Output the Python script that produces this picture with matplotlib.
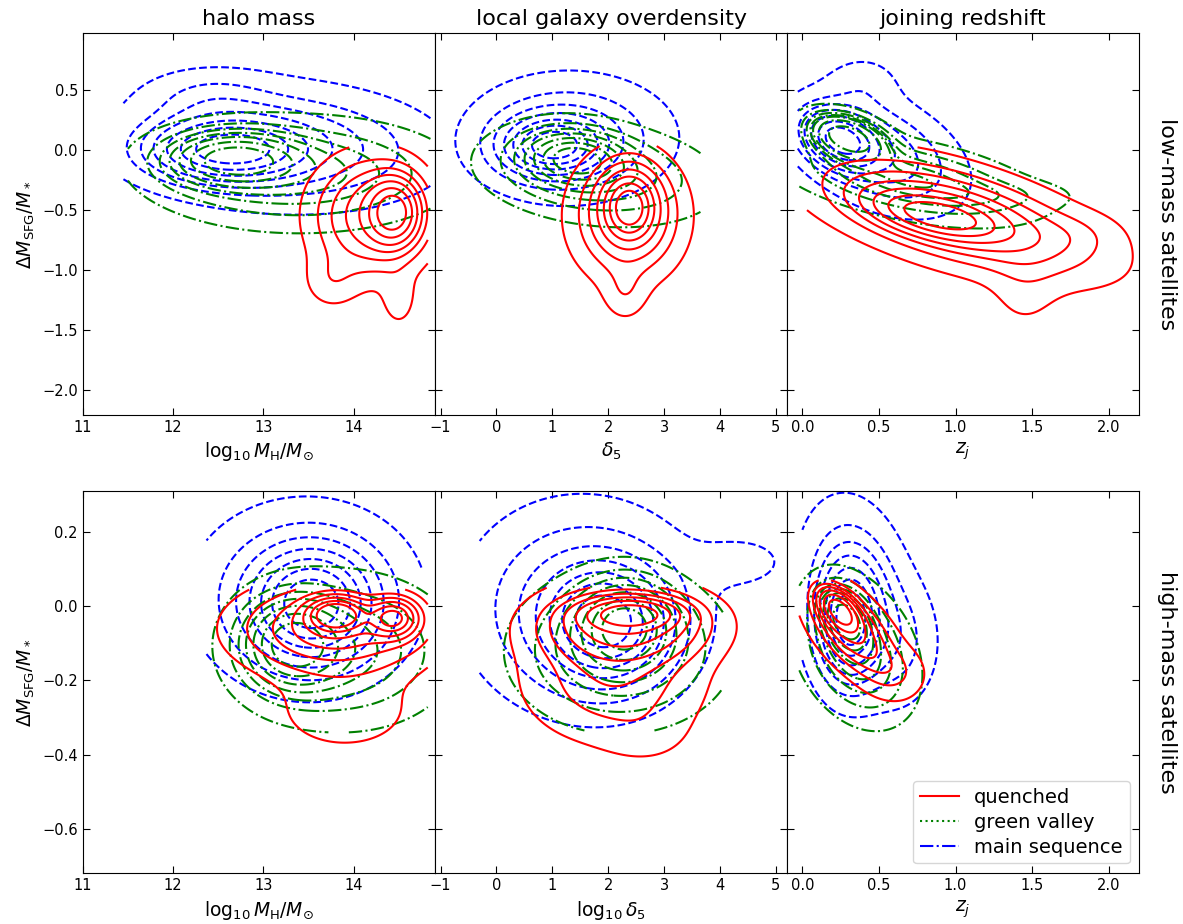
import numpy as np
import matplotlib.pyplot as plt
from matplotlib.lines import Line2D

# Gaussian blobs: (x, y, sx, sy, rho, weight)
# plus the data range each sample covers: (xmin, xmax, ymin, ymax)

# low-mass satellites, halo mass
hm_lo_ms = [(12.6, 0.0, 0.5, 0.15, 0.0, 1.0), (13.2, 0.03, 1.0, 0.3, -0.1, 0.4),
            (12.4, 0.45, 0.45, 0.15, 0.0, 0.12)]
hm_lo_gv = [(12.65, -0.08, 0.45, 0.14, 0.0, 1.0), (13.4, -0.2, 0.9, 0.25, 0.0, 0.5)]
hm_lo_q = [(14.45, -0.52, 0.18, 0.17, 0.0, 1.0), (14.2, -0.55, 0.4, 0.3, 0.0, 0.55),
           (13.75, -1.1, 0.2, 0.15, 0.0, 0.12), (14.5, -1.25, 0.12, 0.15, 0.0, 0.12)]
hm_lo_box = [(11.45, 14.85, -1.0, 1.0), (11.5, 14.85, -1.0, 0.6), (13.0, 14.82, -1.7, 0.02)]

# low-mass satellites, overdensity
od_lo_ms = [(1.0, 0.03, 0.55, 0.15, 0.0, 1.0), (1.3, 0.1, 0.95, 0.27, 0.0, 0.4)]
od_lo_gv = [(1.4, -0.07, 0.55, 0.14, -0.1, 1.0), (1.8, -0.2, 1.1, 0.22, -0.2, 0.5)]
od_lo_q = [(2.38, -0.47, 0.3, 0.18, 0.0, 1.0), (2.35, -0.55, 0.6, 0.32, 0.0, 0.5),
           (2.3, -1.2, 0.25, 0.15, 0.0, 0.12)]
od_lo_box = [(-0.9, 3.6, -0.6, 0.9), (-0.9, 3.65, -0.9, 0.4), (1.0, 3.55, -1.6, 0.03)]

# low-mass satellites, joining redshift
zj_lo_ms = [(0.25, 0.08, 0.14, 0.14, -0.3, 1.0), (0.5, -0.02, 0.3, 0.28, -0.4, 0.3),
            (0.4, 0.55, 0.15, 0.15, 0.0, 0.07)]
zj_lo_gv = [(0.3, 0.1, 0.14, 0.11, -0.4, 1.0), (0.7, -0.25, 0.45, 0.2, -0.5, 0.3),
            (1.35, -0.38, 0.3, 0.08, 0.0, 0.05)]
zj_lo_q = [(0.88, -0.55, 0.25, 0.12, -0.5, 1.0), (1.0, -0.55, 0.55, 0.3, -0.6, 0.6),
           (1.45, -1.2, 0.15, 0.22, 0.0, 0.08), (1.8, -0.7, 0.2, 0.12, 0.0, 0.06)]
zj_lo_box = [(-0.03, 1.3, -0.7, 1.0), (-0.02, 1.9, -0.9, 0.4), (0.03, 2.3, -1.7, 0.02)]

# high-mass satellites, halo mass
hm_hi_ms = [(13.55, 0.0, 0.45, 0.1, 0.0, 1.0), (13.45, 0.03, 0.7, 0.14, 0.0, 0.5)]
hm_hi_gv = [(13.3, -0.1, 0.35, 0.08, 0.0, 1.0), (13.9, -0.12, 0.7, 0.12, 0.0, 0.6)]
hm_hi_q = [(13.8, -0.02, 0.2, 0.03, 0.0, 1.0), (14.45, -0.03, 0.18, 0.035, 0.0, 0.9),
           (13.8, -0.06, 0.6, 0.07, 0.0, 0.6), (13.9, -0.28, 0.55, 0.08, 0.0, 0.1)]
hm_hi_box = [(12.37, 14.75, -0.5, 0.5), (12.37, 14.82, -0.34, 0.3), (12.3, 14.82, -0.6, 0.045)]

# high-mass satellites, overdensity
od_hi_ms = [(2.0, -0.05, 0.7, 0.1, 0.0, 1.0), (1.5, 0.0, 1.1, 0.15, 0.0, 0.5),
            (4.4, 0.12, 0.6, 0.05, 0.0, 0.1)]
od_hi_gv = [(2.3, -0.05, 0.5, 0.07, 0.0, 1.0), (2.2, -0.12, 1.1, 0.12, 0.0, 0.5)]
od_hi_q = [(2.4, -0.02, 0.5, 0.025, 0.0, 1.0), (2.3, -0.05, 0.85, 0.06, 0.0, 0.6),
           (2.1, -0.2, 0.95, 0.1, 0.0, 0.2), (2.7, -0.35, 0.5, 0.05, 0.0, 0.04)]
od_hi_box = [(-0.3, 5.2, -0.6, 0.5), (0.0, 4.05, -0.335, 0.3), (-0.5, 5.0, -0.7, 0.05)]

# high-mass satellites, joining redshift
zj_hi_ms = [(0.3, -0.05, 0.13, 0.1, 0.0, 1.0), (0.35, 0.03, 0.2, 0.14, -0.2, 0.5),
            (0.65, -0.1, 0.15, 0.1, 0.0, 0.2)]
zj_hi_gv = [(0.28, -0.03, 0.1, 0.05, -0.3, 1.0), (0.35, -0.12, 0.2, 0.1, -0.3, 0.6)]
zj_hi_q = [(0.24, -0.01, 0.08, 0.035, -0.5, 1.0), (0.33, -0.07, 0.18, 0.08, -0.6, 0.5),
           (0.62, -0.18, 0.13, 0.045, 0.0, 0.1)]
zj_hi_box = [(0.0, 1.2, -0.6, 0.5), (-0.02, 1.0, -0.5, 0.3), (-0.02, 1.2, -0.5, 0.07)]

titles = ['halo mass', 'local galaxy overdensity', 'joining redshift']
row_labels = ['low-mass satellites', 'high-mass satellites']
xlabels = [[r'$\log_{10}M_{\rm H}/M_{\odot}$', r'$\delta_5$', r'$z_j$'],
           [r'$\log_{10}M_{\rm H}/M_{\odot}$', r'$\log_{10}\delta_5$', r'$z_j$']]
xlims = [(11, 14.9), (-1.1, 5.2), (-0.1, 2.2)]
ylims = [(-2.21, 0.97), (-0.72, 0.31)]
xticks = [[11, 12, 13, 14], [-1, 0, 1, 2, 3, 4, 5], [0.0, 0.5, 1.0, 1.5, 2.0]]

panels = [[(hm_lo_ms, hm_lo_gv, hm_lo_q, hm_lo_box),
           (od_lo_ms, od_lo_gv, od_lo_q, od_lo_box),
           (zj_lo_ms, zj_lo_gv, zj_lo_q, zj_lo_box)],
          [(hm_hi_ms, hm_hi_gv, hm_hi_q, hm_hi_box),
           (od_hi_ms, od_hi_gv, od_hi_q, od_hi_box),
           (zj_hi_ms, zj_hi_gv, zj_hi_q, zj_hi_box)]]

styles = [('blue', '--'), ('green', '-.'), ('red', '-')]
props = np.linspace(0.05, 0.85, 7)


def density(comps, box, n=250):
    x = np.linspace(box[0], box[1], n)
    y = np.linspace(box[2], box[3], n)
    X, Y = np.meshgrid(x, y)
    Z = np.zeros_like(X)
    for cx, cy, sx, sy, rho, w in comps:
        u = (X - cx) / sx
        v = (Y - cy) / sy
        q = (u**2 - 2 * rho * u * v + v**2) / (1 - rho**2)
        Z += w * np.exp(-0.5 * q)
    return X, Y, Z


def iso_levels(Z):
    # iso-proportion levels, like seaborn's kdeplot
    z = np.sort(Z.ravel())
    c = np.cumsum(z)
    c /= c[-1]
    return np.interp(props, c, z)


fig, axes = plt.subplots(2, 3, figsize=(11.83, 9.24), dpi=100, sharey='row',
                         gridspec_kw=dict(wspace=0, hspace=0.2))
fig.subplots_adjust(left=0.07, right=0.963, top=0.964, bottom=0.055)

for r in range(2):
    for c in range(3):
        ax = axes[r, c]
        ms, gv, q, box = panels[r][c]
        for comps, b, (col, ls) in zip([ms, gv, q], box, styles):
            X, Y, Z = density(comps, b)
            ax.contour(X, Y, Z, levels=iso_levels(Z), colors=col,
                       linestyles=ls, linewidths=1.5)
        ax.set_xlim(xlims[c])
        ax.set_ylim(ylims[r])
        ax.set_xticks(xticks[c])
        ax.tick_params(direction='in', top=True, right=True, length=5,
                       labelsize=10.5)
        ax.set_xlabel(xlabels[r][c], fontsize=13.5)
        if c == 0:
            ax.set_ylabel(r'$\Delta M_{\rm SFG}/M_*$', fontsize=13.5)
        else:
            ax.tick_params(labelleft=False)
        if r == 0:
            ax.set_title(titles[c], fontsize=16)
    axes[r, 2].text(1.05, 0.5, row_labels[r], rotation=270, fontsize=16,
                    va='center', ha='left', transform=axes[r, 2].transAxes)

axes[0, 0].set_yticks([0.5, 0.0, -0.5, -1.0, -1.5, -2.0])
axes[1, 0].set_yticks([0.2, 0.0, -0.2, -0.4, -0.6])

handles = [Line2D([], [], color='red', ls='-', lw=1.5),
           Line2D([], [], color='green', ls=':', lw=1.5),
           Line2D([], [], color='blue', ls='-.', lw=1.5)]
axes[1, 2].legend(handles, ['quenched', 'green valley', 'main sequence'],
                  loc='lower right', fontsize=14, labelspacing=0.3,
                  borderpad=0.35, handletextpad=0.8)

fig.savefig('out.png', dpi=100)
